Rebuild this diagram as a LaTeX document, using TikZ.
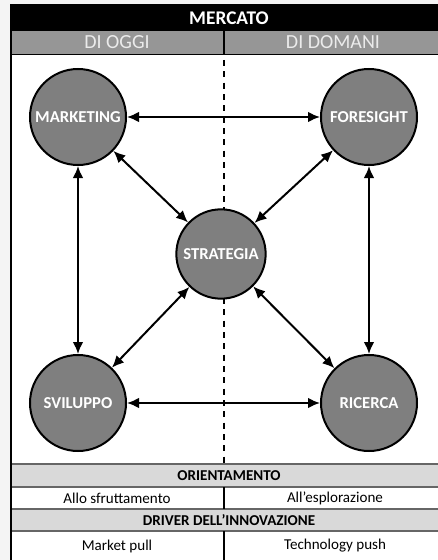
\documentclass[tikz,border=0pt]{standalone}
\usepackage{fontspec}
\setmainfont{Carlito}
\usetikzlibrary{arrows.meta}
\definecolor{circlegray}{HTML}{7F7F7F}
\definecolor{headgray}{HTML}{969696}
\definecolor{rowgray}{HTML}{D9D9D9}
\definecolor{pagegray}{HTML}{F4F4F4}
\begin{document}
\begin{tikzpicture}
[ x=0.75pt, y=-0.75pt, line width=1.1pt
, area/.style={circle, draw=black, line width=1.5pt, fill=circlegray, minimum size=72pt, inner sep=0pt, text=white, font=\bfseries\fontsize{12.5}{15}\selectfont}
, core/.style={area, minimum size=67pt}
, link/.style={{Latex[length=9pt,width=8pt]}-{Latex[length=9pt,width=8pt]}, line width=1.5pt}
, divider/.style={line width=1pt, dash pattern=on 4.5pt off 4pt}
, rowline/.style={line width=0.9pt, draw=black!60}
, maintitle/.style={font=\bfseries\fontsize{14.5}{17}\selectfont, text=white}
, subtitle/.style={font=\fontsize{15}{18}\selectfont, text=white!92!black}
, cellhead/.style={font=\bfseries\fontsize{11.3}{13}\selectfont}
, celltext/.style={font=\fontsize{11.3}{13}\selectfont}
]
\useasboundingbox (0,0) rectangle (438,560);
\clip (0,0) rectangle (438,560);
\fill[pagegray] (0,0) rectangle (438,560);
\fill[white] (11,5) rectangle (446,570);
% Header:
\fill[black] (11,5) rectangle (446,31);
\fill[headgray] (11,31) rectangle (446,54);
\draw[line width=1pt] (224,31) -- (224,54);
\draw[line width=1pt] (11,54.5) -- (446,54.5);
\node (mercato) [maintitle] at (229,18) {MERCATO};
\node (oggi) [subtitle] at (117,42.5) {DI OGGI};
\node (domani) [subtitle] at (333,42.5) {DI DOMANI};
% Dashed divider:
\coordinate (dtop) at (224,60);
\coordinate (dbot) at (224,464);
\draw[divider] (dtop) -- (dbot);
% Circles:
\node (marketing) [area] at (78,117) {MARKETING};
\node (foresight) [area] at (369,117) {FORESIGHT};
\node (strategia) [core] at (221,254) {STRATEGIA};
\node (sviluppo) [area] at (78,403) {SVILUPPO};
\node (ricerca) [area] at (369,403) {RICERCA};
\draw[link] (marketing) -- (foresight);
\draw[link] (sviluppo) -- (ricerca);
\draw[link] (marketing) -- (sviluppo);
\draw[link] (foresight) -- (ricerca);
\draw[link] (marketing) -- (strategia);
\draw[link] (foresight) -- (strategia);
\draw[link] (sviluppo) -- (strategia);
\draw[link] (ricerca) -- (strategia);
% Table:
\fill[rowgray] (11,464) rectangle (446,487);
\fill[rowgray] (11,509) rectangle (446,531);
\foreach \y in {464,487,509,531}
  \draw[rowline] (11,\y) -- (446,\y);
\draw[line width=1pt] (224,487) -- (224,509);
\draw[line width=1pt] (224,531) -- (224,570);
\node (orient) [cellhead] at (229,475.5) {ORIENTAMENTO};
\node (sfrutt) [celltext] at (117,498) {Allo sfruttamento};
\node (esplor) [celltext] at (335,498) {All’esplorazione};
\node (driver) [cellhead] at (229,520) {DRIVER DELL’INNOVAZIONE};
\node (pull) [celltext] at (117,546) {Market pull};
\node (push) [celltext] at (335,546) {Technology push};
% Frame:
\draw[line width=1.6pt] (11,5) rectangle (446,570);
\end{tikzpicture}
\end{document}
